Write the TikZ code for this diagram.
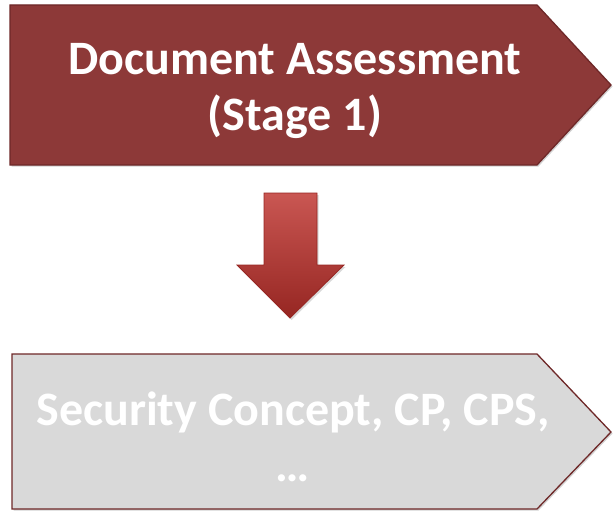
\documentclass[tikz,border=0pt]{standalone}
\usepackage{fontspec}
\setmainfont{Carlito}
\usetikzlibrary{shadows}
\definecolor{topred}{RGB}{141,57,56}
\definecolor{topedge}{RGB}{110,40,40}
\definecolor{boxgray}{RGB}{217,217,217}
\definecolor{arrowred}{RGB}{192,57,52}
\definecolor{arrowdark}{RGB}{150,38,34}
\tikzset{
  stagebox/.style={line width=1.3pt, draw=topedge, drop shadow={shadow xshift=1.5pt, shadow yshift=-1.5pt, opacity=0.35}},
  stagetext/.style={text=white, font=\bfseries\fontsize{48}{56}\selectfont, align=center, inner sep=0pt}
}
\begin{document}
\begin{tikzpicture}[x=1pt,y=-1pt]
\useasboundingbox (0,0) rectangle (613,511);
% top box
\path[stagebox, fill=topred] (10,5) -- (537,5) -- (611,85) -- (537,165) -- (10,165) -- cycle;
\node[stagetext] (top) at (295,91) {Document Assessment\\(Stage 1)};
% down arrow
\path[top color=arrowred!85!white, bottom color=arrowdark, draw=arrowdark, line width=0.8pt,
      drop shadow={shadow xshift=1.5pt, shadow yshift=-2pt, opacity=0.3}]
  (264,193) -- (317,193) -- (317,265) -- (344,265) -- (290,318) -- (237,265) -- (264,265) -- cycle;
% bottom box
\path[stagebox, fill=boxgray] (12,354) -- (537,354) -- (611,432) -- (537,509) -- (12,509) -- cycle;
\node[stagetext] (bottom) at (293,437) {Security Concept, CP, CPS,\\…};
\end{tikzpicture}
\end{document}
